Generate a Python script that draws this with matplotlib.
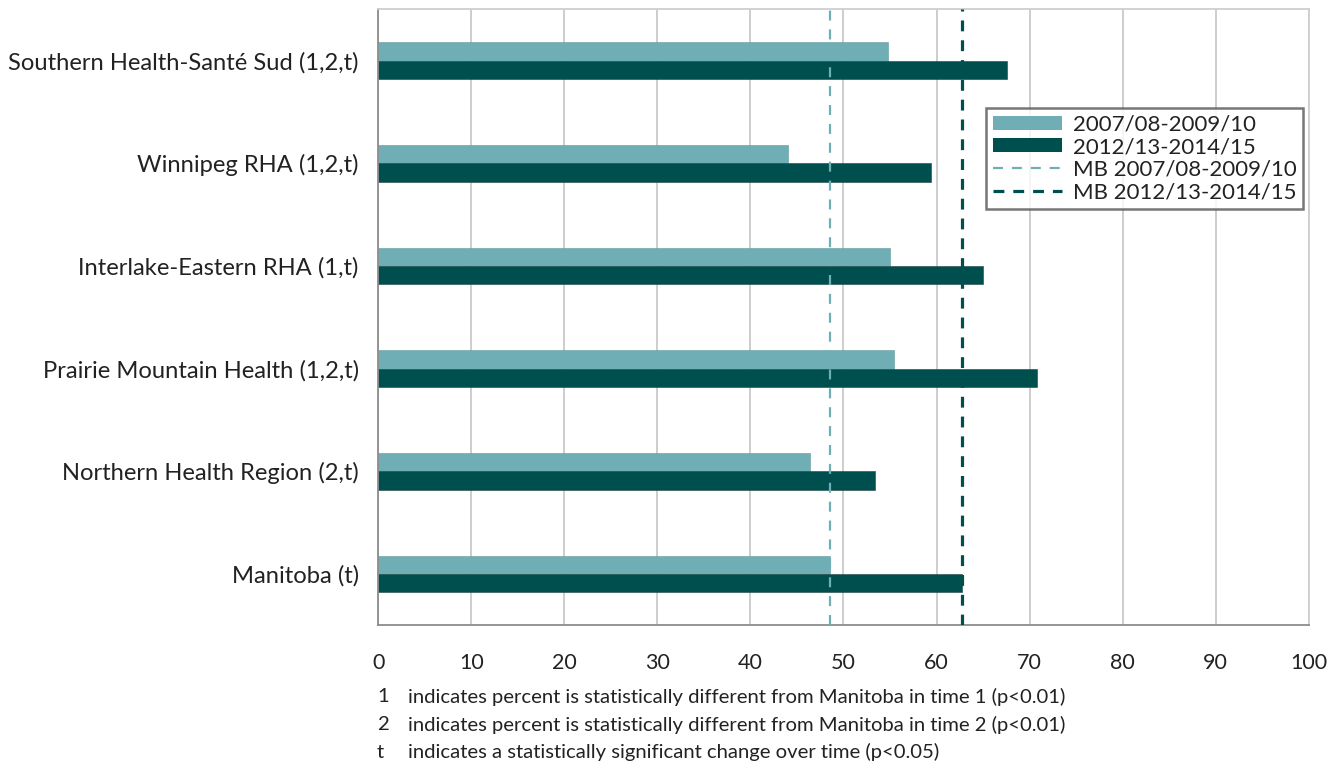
import matplotlib.pyplot as plt
from matplotlib.patches import Patch
from matplotlib.lines import Line2D

plt.rcParams['font.family'] = ['Lato', 'DejaVu Sans']

regions = ['Southern Health-Santé Sud (1,2,t)', 'Winnipeg RHA (1,2,t)',
           'Interlake-Eastern RHA (1,t)', 'Prairie Mountain Health (1,2,t)',
           'Northern Health Region (2,t)', 'Manitoba (t)']
period1 = [54.8, 44.0, 55.0, 55.4, 46.4, 48.6]
period2 = [67.6, 59.4, 65.0, 70.8, 53.4, 62.7]
mb_period1 = 48.6
mb_period2 = 62.7
labels = ['2007/08-2009/10', '2012/13-2014/15',
          'MB 2007/08-2009/10', 'MB 2012/13-2014/15']
footnotes = [('1', 'indicates percent is statistically different from Manitoba in time 1 (p<0.01)'),
             ('2', 'indicates percent is statistically different from Manitoba in time 2 (p<0.01)'),
             ('t', 'indicates a statistically significant change over time (p<0.05)')]

light = '#70aeb6'
dark = '#004f4f'
text_col = '#222222'

fig = plt.figure(figsize=(13.41, 7.7), dpi=100)
ax = fig.add_axes([0.282, 0.188, 0.694, 0.800])

n = len(regions)
ys = [n - 1 - i for i in range(n)]
h = 0.178
ax.barh([y + h / 2 for y in ys], period1, height=h, color=light,
        edgecolor='#5f9aa0', linewidth=0.4, zorder=2)
ax.barh([y - h / 2 for y in ys], period2, height=h, color=dark,
        edgecolor='#1f4444', linewidth=0.4, zorder=2)

ax.axvline(mb_period1, color=light, lw=1.6, ls=(0, (4.5, 4.0)), zorder=3)
ax.axvline(mb_period2, color=dark, lw=2.3, ls=(0, (3.4, 2.8)), zorder=3)

ax.set_xlim(0, 100)
ax.set_ylim(-0.5, n - 0.5)
ax.set_xticks(range(0, 101, 10))
ax.set_yticks(ys)
ax.set_yticklabels(regions)
ax.tick_params(axis='both', length=0, colors=text_col)
ax.tick_params(axis='x', pad=20, labelsize=15.5)
ax.tick_params(axis='y', pad=14, labelsize=17.1)
ax.xaxis.grid(True, color='#c9c9c9', lw=1.3, zorder=0)
ax.set_axisbelow(True)
for s in ['top', 'right']:
    ax.spines[s].set_color('#cfcfcf')
    ax.spines[s].set_linewidth(1.3)
for s in ['left', 'bottom']:
    ax.spines[s].set_color('#8c8c8c')
    ax.spines[s].set_linewidth(1.3)

handles = [Patch(facecolor=light), Patch(facecolor=dark),
           Line2D([], [], color=light, lw=1.6, ls=(0, (4.5, 4.0))),
           Line2D([], [], color=dark, lw=2.3, ls=(0, (3.4, 2.8)))]
leg = ax.legend(handles, labels, loc='upper right', bbox_to_anchor=(0.994, 0.84),
                fontsize=16, frameon=True, fancybox=False, handlelength=3.1,
                handleheight=0.6, labelspacing=0.12, borderpad=0.3,
                handletextpad=0.5, borderaxespad=0)
leg.get_frame().set_edgecolor('#555555')
leg.get_frame().set_linewidth(1.8)
for t in leg.get_texts():
    t.set_color(text_col)

for i, (k, txt) in enumerate(footnotes):
    y = 1 - 697 / 770 - i * 27.5 / 770
    fig.text(377 / 1341, y, k, fontsize=14.6, color=text_col, va='center')
    fig.text(408 / 1341, y, txt, fontsize=14.6, color=text_col, va='center')

fig.savefig('out.png', dpi=100)
